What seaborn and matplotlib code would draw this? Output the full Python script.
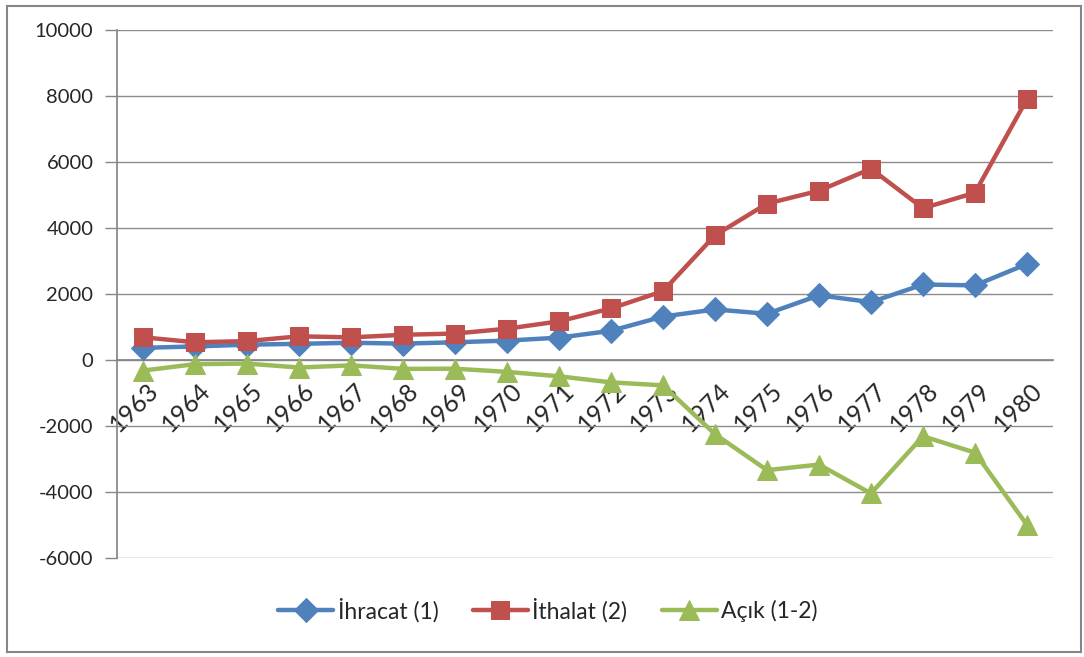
import numpy as np
import pandas as pd
import matplotlib
matplotlib.use("Agg")
import matplotlib.pyplot as plt
import matplotlib.transforms as mtrans
import seaborn as sns
from matplotlib.patches import Rectangle

# Data (million $)
years = [1963, 1964, 1965, 1966, 1967, 1968, 1969, 1970, 1971,
         1972, 1973, 1974, 1975, 1976, 1977, 1978, 1979, 1980]
ihracat = [368, 411, 464, 490, 523, 496, 537, 588, 677,
           885, 1317, 1532, 1401, 1960, 1753, 2288, 2261, 2910]
ithalat = [688, 537, 572, 718, 685, 764, 801, 948, 1171,
           1563, 2086, 3778, 4739, 5129, 5796, 4599, 5069, 7909]
acik = [-320, -126, -108, -228, -162, -268, -264, -360, -494,
        -678, -769, -2246, -3338, -3169, -4043, -2311, -2808, -4999]

labels = ["İhracat (1)", "İthalat (2)", "Açık (1-2)"]
colors = ["#4F81BD", "#C0504D", "#9BBB59"]
markers = ["D", "s", "^"]
msizes = [12, 13, 14]

sns.set_theme(style="white")
plt.rcParams["font.family"] = ["Lato", "DejaVu Sans"]
plt.rcParams["axes.unicode_minus"] = False

pos = np.arange(len(years))
df = pd.DataFrame({"pos": np.tile(pos, 3),
                   "value": ihracat + ithalat + acik,
                   "series": np.repeat(labels, len(years))})

fig = plt.figure(figsize=(10.84, 6.57), dpi=100)
ax = fig.add_axes([117 / 1084, 99 / 657, 936 / 1084, 528 / 657])

for lab, col, mk, ms in zip(labels, colors, markers, msizes):
    sns.lineplot(data=df[df["series"] == lab], x="pos", y="value", ax=ax,
                 color=col, marker=mk, markersize=ms, markeredgecolor=col,
                 linewidth=3.2, label=lab, zorder=3)

ax.set_xlim(-0.5, len(years) - 0.5)
ax.set_ylim(-6000, 10000)
ax.set_yticks(np.arange(-6000, 10001, 2000))
ax.yaxis.grid(True, color="#8C8C8C", linewidth=1)
ax.xaxis.grid(False)
ax.set_axisbelow(True)

for s in ["top", "right"]:
    ax.spines[s].set_visible(False)
ax.spines["left"].set_color("#868686")
ax.spines["bottom"].set_color("#868686")
ax.spines["bottom"].set_position(("data", 0))

ax.set_xticks(pos)
ax.set_xticklabels([str(y) for y in years], rotation=45, ha="right",
                   rotation_mode="anchor", fontsize=18)
ax.set_xticks(np.arange(-0.5, len(years), 1), minor=True)
ax.tick_params(axis="x", which="major", length=0, pad=13)
ax.tick_params(axis="x", which="minor", length=7, color="#868686", width=1, direction="out")
ax.tick_params(axis="y", length=9, color="#868686", width=1, labelsize=14.5, pad=8, left=True)
offset = mtrans.ScaledTranslation(4 / 100, 0, fig.dpi_scale_trans)
for t in ax.get_xticklabels():
    t.set_transform(t.get_transform() + offset)

ax.set_xlabel("")
ax.set_ylabel("")

ax.legend(loc="center", bbox_to_anchor=(548 / 1084, 47 / 657),
          bbox_transform=fig.transFigure, ncol=3, frameon=False,
          fontsize=16.5, handlelength=2.4, columnspacing=1.5, handletextpad=0.2)

fig.patches.append(Rectangle((7 / 1084, 5 / 657), 1074 / 1084, 646 / 657,
                             transform=fig.transFigure, fill=False,
                             edgecolor="#868686", linewidth=1.5))

fig.savefig("out.png", dpi=100)
